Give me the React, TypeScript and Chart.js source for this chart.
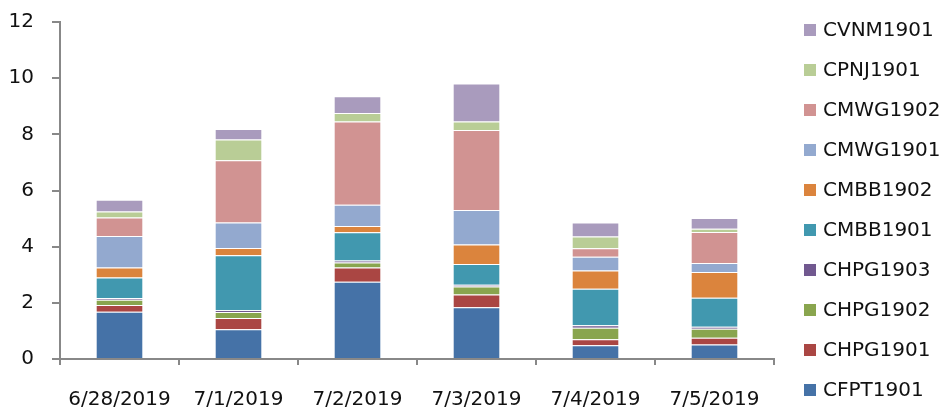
import React, { useEffect, useRef } from "react";
import { Chart, registerables } from "chart.js";

Chart.register(...registerables);

const categories = ["6/28/2019", "7/1/2019", "7/2/2019", "7/3/2019", "7/4/2019", "7/5/2019"];

const CFPT1901 = [1.68, 1.06, 2.75, 1.84, 0.49, 0.52];
const CHPG1901 = [0.24, 0.40, 0.51, 0.46, 0.21, 0.24];
const CHPG1902 = [0.19, 0.21, 0.18, 0.28, 0.41, 0.32];
const CHPG1903 = [0.06, 0.07, 0.07, 0.06, 0.09, 0.07];
const CMBB1901 = [0.73, 1.95, 1.00, 0.74, 1.30, 1.03];
const CMBB1902 = [0.36, 0.26, 0.23, 0.70, 0.65, 0.92];
const CMWG1901 = [1.12, 0.91, 0.75, 1.23, 0.49, 0.32];
const CMWG1902 = [0.66, 2.22, 2.97, 2.84, 0.30, 1.10];
const CPNJ1901 = [0.21, 0.74, 0.30, 0.31, 0.42, 0.12];
const CVNM1901 = [0.42, 0.37, 0.60, 1.35, 0.50, 0.38];

const seriesNames = ["CFPT1901", "CHPG1901", "CHPG1902", "CHPG1903", "CMBB1901", "CMBB1902", "CMWG1901", "CMWG1902", "CPNJ1901", "CVNM1901"];
const seriesValues = [CFPT1901, CHPG1901, CHPG1902, CHPG1903, CMBB1901, CMBB1902, CMWG1901, CMWG1902, CPNJ1901, CVNM1901];
const seriesColors = ["#4572A7", "#AA4643", "#89A54E", "#71588F", "#4198AF", "#DB843D", "#93A9CF", "#D19392", "#B9CD96", "#A99BBD"];

const yTicks = [0, 2, 4, 6, 8, 10, 12];

const FONT_FAMILY = "'DejaVu Sans', 'Liberation Sans', sans-serif";

// Legend drawn on the right, top-to-bottom in reverse series order
const rightLegend = {
  id: "rightLegend",
  afterDraw(chart: any) {
    const ctx = chart.ctx;
    const datasets = chart.data.datasets;
    const left = chart.chartArea.right + 30;
    const firstY = 30;
    const step = 40;
    const box = 12;
    ctx.save();
    ctx.font = `20px ${FONT_FAMILY}`;
    ctx.textBaseline = "middle";
    ctx.textAlign = "left";
    for (let k = 0; k < datasets.length; k++) {
      const ds = datasets[datasets.length - 1 - k];
      const cy = firstY + k * step;
      ctx.fillStyle = ds.backgroundColor;
      ctx.fillRect(left, cy - box / 2, box, box);
      ctx.fillStyle = "#111";
      ctx.fillText(ds.label, left + box + 7, cy + 1);
    }
    ctx.restore();
  },
};

export default function App() {
  const ref = useRef<HTMLCanvasElement | null>(null);

  useEffect(() => {
    document.body.style.margin = "0";
    const ctx = ref.current!.getContext("2d")!;
    const font = { family: FONT_FAMILY, size: 20 };
    const chart = new Chart(ctx, {
      type: "bar",
      data: {
        labels: categories,
        datasets: seriesNames.map((name, i) => ({
          label: name,
          data: seriesValues[i],
          backgroundColor: seriesColors[i],
          borderColor: "rgba(255,255,255,0.35)",
          borderWidth: 1,
          categoryPercentage: 1,
          barPercentage: 0.4,
        })),
      },
      options: {
        animation: false,
        responsive: false,
        maintainAspectRatio: false,
        layout: { padding: { top: 22, right: 170, left: 0, bottom: 0 } },
        plugins: {
          tooltip: { enabled: false },
          legend: { display: false },
        },
        scales: {
          x: {
            stacked: true,
            afterFit: (axis: any) => {
              axis.height = 50;
              axis.paddingLeft = 0;
              axis.paddingRight = 0;
            },
            grid: {
              display: true,
              drawOnChartArea: false,
              offset: true,
              tickLength: 6,
              color: "#888888",
              lineWidth: 2,
            },
            border: { color: "#888888", width: 2 },
            ticks: { color: "#111", font, padding: 23, maxRotation: 0, autoSkip: false },
          },
          y: {
            stacked: true,
            min: yTicks[0],
            max: yTicks[yTicks.length - 1],
            afterBuildTicks: (axis: any) => {
              axis.ticks = yTicks.map((v) => ({ value: v }));
            },
            afterFit: (axis: any) => {
              axis.width = 60;
              axis.paddingTop = 0;
              axis.paddingBottom = 0;
            },
            grid: {
              display: true,
              drawOnChartArea: false,
              tickLength: 8,
              color: "#888888",
              lineWidth: 2,
            },
            border: { color: "#888888", width: 2 },
            ticks: { color: "#111", font, padding: 18 },
          },
        },
      },
      plugins: [rightLegend],
    });
    return () => chart.destroy();
  }, []);

  return (
    <div style={{ width: 944, height: 409 }}>
      <canvas ref={ref} width={944} height={409} />
    </div>
  );
}
